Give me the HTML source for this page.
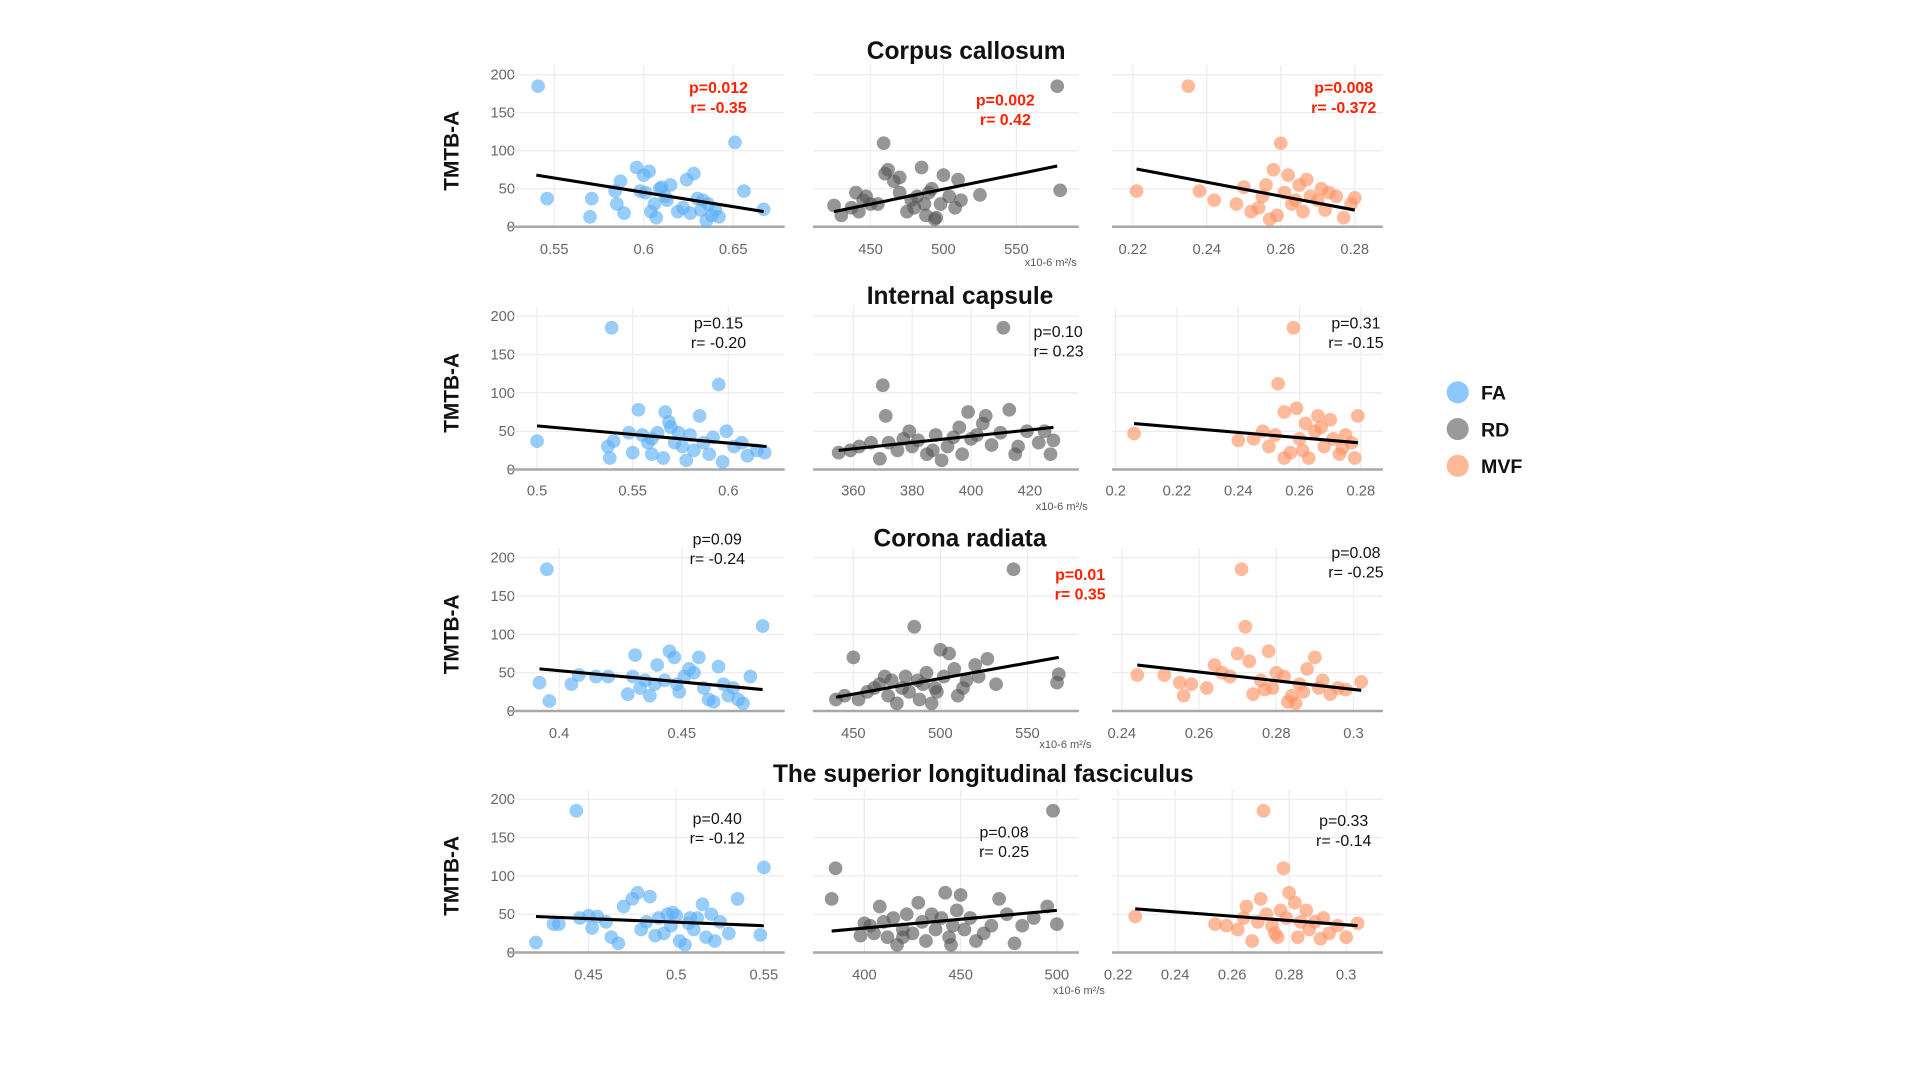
<!DOCTYPE html>
<html><head><meta charset="utf-8"><style>
html,body{margin:0;padding:0;background:#fff;width:1920px;height:1080px;overflow:hidden}
svg{display:block;font-family:"Liberation Sans",sans-serif}
</style></head><body>
<svg id="chart" width="1920" height="1080" viewBox="0 0 1566 881" xmlns="http://www.w3.org/2000/svg">
<g id="root"></g>
</svg>
<script>
// ---- data (value pairs: [metric, TMTB-A]) ----
const ccFA=[[0.541,185],[0.546,37],[0.57,13],[0.571,37],[0.584,47],[0.585,30],[0.587,60],[0.589,18],[0.596,78],[0.6,68],[0.603,73],[0.601,45],[0.604,20],[0.606,30],[0.607,12],[0.609,50],[0.612,40],[0.615,55],[0.613,35],[0.619,20],[0.624,62],[0.628,70],[0.63,37],[0.633,35],[0.636,30],[0.635,8],[0.64,22],[0.642,13],[0.651,111],[0.656,47],[0.667,23],[0.598,47],[0.61,52],[0.622,25],[0.626,18],[0.632,22],[0.638,15]];
const ccRD=[[425,28],[430,15],[437,25],[440,45],[442,20],[447,40],[450,30],[455,30],[459,110],[460,70],[462,75],[466,60],[470,65],[475,20],[478,35],[482,40],[485,78],[487,30],[488,15],[490,45],[492,50],[494,10],[495,12],[500,68],[504,40],[508,25],[510,62],[512,35],[525,42],[578,185],[580,48],[470,45],[480,25],[498,30],[445,35]];
const ccMVF=[[0.221,47],[0.235,185],[0.238,47],[0.242,35],[0.248,30],[0.25,52],[0.252,20],[0.255,40],[0.256,55],[0.258,75],[0.259,15],[0.26,110],[0.261,45],[0.262,68],[0.263,30],[0.265,55],[0.266,20],[0.267,62],[0.268,40],[0.27,35],[0.272,22],[0.273,45],[0.275,40],[0.277,12],[0.279,30],[0.28,38],[0.254,25],[0.257,10],[0.264,35],[0.271,50]];
const icFA=[[0.5,37],[0.539,185],[0.537,30],[0.538,15],[0.54,37],[0.548,48],[0.55,22],[0.553,78],[0.555,45],[0.558,35],[0.56,20],[0.563,48],[0.566,15],[0.567,75],[0.569,62],[0.57,55],[0.572,35],[0.574,48],[0.576,30],[0.578,12],[0.582,25],[0.585,70],[0.587,35],[0.59,20],[0.595,111],[0.597,10],[0.599,50],[0.603,30],[0.607,35],[0.61,18],[0.615,25],[0.619,22],[0.58,45],[0.592,42],[0.56,40]];
const icRD=[[355,22],[359,25],[362,30],[366,35],[369,14],[370,110],[371,70],[372,35],[375,25],[377,40],[379,50],[380,30],[382,38],[385,20],[387,25],[390,12],[392,30],[394,42],[396,55],[397,20],[399,75],[400,40],[402,45],[404,60],[405,70],[407,32],[410,48],[411,185],[413,78],[415,20],[416,30],[419,50],[423,35],[425,50],[427,20],[428,38],[388,45]];
const icMVF=[[0.206,47],[0.258,185],[0.253,112],[0.24,38],[0.245,40],[0.248,50],[0.25,30],[0.252,45],[0.255,75],[0.257,22],[0.259,80],[0.26,40],[0.262,60],[0.263,15],[0.265,50],[0.266,70],[0.268,30],[0.27,65],[0.271,40],[0.273,20],[0.275,45],[0.277,35],[0.278,15],[0.279,70],[0.255,15],[0.261,25],[0.267,55],[0.274,28]];
const crFA=[[0.392,37],[0.395,185],[0.396,13],[0.405,35],[0.408,47],[0.415,45],[0.42,45],[0.428,22],[0.43,45],[0.431,73],[0.433,30],[0.437,20],[0.439,35],[0.44,60],[0.443,40],[0.445,78],[0.447,70],[0.449,25],[0.451,45],[0.453,55],[0.455,50],[0.457,70],[0.459,30],[0.461,15],[0.463,12],[0.465,58],[0.467,35],[0.469,20],[0.471,30],[0.473,15],[0.475,10],[0.478,45],[0.483,111],[0.448,35],[0.435,40]];
const crRD=[[440,15],[445,20],[450,70],[453,15],[458,25],[462,30],[465,35],[468,45],[470,20],[472,40],[475,10],[478,30],[480,45],[482,25],[485,110],[487,40],[490,35],[492,50],[495,10],[497,30],[500,80],[502,45],[505,75],[508,55],[510,20],[513,30],[515,40],[520,60],[522,45],[527,68],[532,35],[542,185],[568,48],[567,37],[488,15],[498,25]];
const crMVF=[[0.244,47],[0.251,47],[0.255,37],[0.256,20],[0.258,35],[0.262,30],[0.264,60],[0.266,50],[0.268,45],[0.27,75],[0.271,185],[0.272,110],[0.273,65],[0.274,22],[0.276,40],[0.278,78],[0.279,30],[0.28,50],[0.282,45],[0.283,12],[0.284,20],[0.285,10],[0.286,35],[0.288,55],[0.29,70],[0.291,30],[0.292,40],[0.294,22],[0.296,30],[0.298,28],[0.302,38],[0.277,28],[0.287,25]];
const slfFA=[[0.42,13],[0.43,37],[0.433,37],[0.443,185],[0.445,45],[0.45,48],[0.452,32],[0.455,47],[0.46,40],[0.463,20],[0.467,12],[0.47,60],[0.475,70],[0.478,78],[0.48,30],[0.483,40],[0.485,73],[0.488,22],[0.49,45],[0.493,25],[0.495,50],[0.497,35],[0.5,48],[0.502,15],[0.505,10],[0.507,38],[0.51,30],[0.512,45],[0.515,63],[0.517,20],[0.52,50],[0.522,15],[0.525,40],[0.53,25],[0.535,70],[0.548,23],[0.55,111],[0.498,52],[0.508,45]];
const slfRD=[[383,70],[385,110],[398,22],[400,38],[403,35],[405,25],[408,60],[410,40],[412,20],[415,45],[417,10],[420,30],[422,50],[425,25],[428,65],[430,40],[432,15],[435,50],[437,30],[440,45],[442,78],[444,20],[446,35],[448,55],[450,75],[452,30],[455,45],[458,15],[462,25],[466,35],[470,70],[474,50],[478,12],[482,35],[488,45],[495,60],[498,185],[500,37],[420,20],[445,10]];
const slfMVF=[[0.226,47],[0.254,37],[0.258,35],[0.262,30],[0.264,45],[0.265,60],[0.267,15],[0.27,70],[0.271,185],[0.272,50],[0.274,35],[0.275,25],[0.277,55],[0.278,110],[0.279,45],[0.28,78],[0.282,65],[0.283,20],[0.284,40],[0.286,55],[0.287,30],[0.289,40],[0.291,18],[0.292,45],[0.294,25],[0.297,35],[0.3,20],[0.304,38],[0.269,40],[0.276,20]];
// regression fits [x0,y0,x1,y1]
const fits=[[0.54,68,0.667,20],[425,20,578,80],[0.221,76,0.28,22],
[0.5,57,0.62,30],[355,25,428,55],[0.206,60,0.279,35],
[0.392,55,0.483,28],[440,18,568,70],[0.244,60,0.302,27],
[0.42,47,0.55,35],[383,28,500,55],[0.226,57,0.304,35]];
const statP=["p=0.012","p=0.002","p=0.008","p=0.15","p=0.10","p=0.31","p=0.09","p=0.01","p=0.08","p=0.40","p=0.08","p=0.33"];
const statR=["r= -0.35","r= 0.42","r= -0.372","r= -0.20","r= 0.23","r= -0.15","r= -0.24","r= 0.35","r= -0.25","r= -0.12","r= 0.25","r= -0.14"];
const sig=[1,1,1,0,0,0,0,1,0,0,0,0];
const regionTitles=["Corpus callosum","Internal capsule","Corona radiata","The superior longitudinal fasciculus"];
const yTicks=[0,50,100,150,200];
const xTickSets=[[0.55,0.6,0.65],[450,500,550],[0.22,0.24,0.26,0.28],
[0.5,0.55,0.6],[360,380,400,420],[0.2,0.22,0.24,0.26,0.28],
[0.4,0.45],[450,500,550],[0.24,0.26,0.28,0.3],
[0.45,0.5,0.55],[400,450,500],[0.22,0.24,0.26,0.28,0.3]];
const seriesData=[ccFA,ccRD,ccMVF,icFA,icRD,icMVF,crFA,crRD,crMVF,slfFA,slfRD,slfMVF];

// ---- layout (pixel anchors) ----
const rows=[{y200:61,y0:185,tick:203,title:41,tx:788,unitY:214,unitX:857},
{y200:258,y0:383,tick:400,title:241,tx:783,unitY:413,unitX:866},
{y200:455,y0:580,tick:598,title:439,tx:783,unitY:607,unitX:869},
{y200:652,y0:777,tick:795,title:631,tx:802,unitY:808,unitX:880}];
const colSpan=[[415,640],[663,880],[907,1128]];
const xAnch=[[452,598],[710,829],[924,1105],[438,594],[696,840],[910,1110],[456,556],[696,838],[915,1104],[480,623],[705,862],[912,1098]];
const statPos=[[586,71,'m'],[820,81,'m'],[1096,71,'m'],[586,263,'m'],[843,270,'s'],[1106,263,'m'],[585,439,'m'],[881,468,'m'],[1106,450,'m'],[585,667,'m'],[819,678,'m'],[1096,669,'m']];
const colors=["#5aaef5","#555555","#ff9060"];
const NS="http://www.w3.org/2000/svg";
const root=document.getElementById('root');
function mk(tag,attrs,parent){const e=document.createElementNS(NS,tag);for(const k in attrs)e.setAttribute(k,attrs[k]);(parent||root).appendChild(e);return e;}
function txt(s,attrs,parent){const e=mk('text',attrs,parent);e.textContent=s;return e;}

rows.forEach((R,ri)=>{
  const g=mk('g',{});
  
  
  const yS=v=>R.y0+(v/200)*(R.y200-R.y0);
  const t=txt(regionTitles[ri],{x:R.tx,y:R.title+7,'text-anchor':'middle','font-size':20,'font-weight':'bold',fill:'#111'},g);
  
  
  const yl=txt('TMTB-A',{x:0,y:0,transform:`translate(374,${(R.y0+R.y200)/2}) rotate(-90)`,'text-anchor':'middle','font-size':17,'font-weight':'bold',fill:'#111'},g);
  
  
  yTicks.forEach(v=>{
    const l=txt(String(v),{x:420,y:yS(v)+4,'text-anchor':'end','font-size':12,fill:'#666'},g);
    
    
  });
  const u=txt('x10-6 m²/s',{x:R.unitX,y:R.unitY+3,'text-anchor':'middle','font-size':9,fill:'#555'},g);
  
  
  for(let c=0;c<3;c++){
    const pi=ri*3+c;
    const pg=mk('g',{},g);
    
    
    const ticks=xTickSets[pi],A=xAnch[pi];
    const t0=ticks[0],t1=ticks[ticks.length-1];
    const xS=v=>A[0]+(v-t0)/(t1-t0)*(A[1]-A[0]);
    const [L,Rr]=colSpan[c];
    yTicks.forEach(v=>{if(v>0)mk('line',{x1:L,x2:Rr,y1:yS(v),y2:yS(v),stroke:'#ececec','stroke-width':1},pg);});
    ticks.forEach(v=>{
      mk('line',{x1:xS(v),x2:xS(v),y1:R.y200-8,y2:R.y0,stroke:'#ececec','stroke-width':1},pg);
      const l=txt(String(v),{x:xS(v),y:R.tick+4,'text-anchor':'middle','font-size':12,fill:'#666'},pg);
      
      
    });
    const base=mk('line',{x1:L,x2:Rr,y1:R.y0,y2:R.y0,stroke:'#a8a8a8','stroke-width':2},pg);
    
    
    seriesData[pi].forEach(p=>{
      const d=mk('circle',{cx:xS(p[0]),cy:yS(p[1]),r:5.6,fill:colors[c],'fill-opacity':0.62},pg);
      
      
    });
    const f=fits[pi];
    const fl=mk('line',{x1:xS(f[0]),y1:yS(f[1]),x2:xS(f[2]),y2:yS(f[3]),stroke:'#000','stroke-width':2.5},pg);
    
    
    const sp=statPos[pi];
    const anc=sp[2]==='m'?'middle':'start';
    const col=sig[pi]?'#ff2200':'#111',fw=sig[pi]?'bold':'normal';
    const s1=txt(statP[pi],{x:sp[0],y:sp[1]+5,'text-anchor':anc,'font-size':13,'font-weight':fw,fill:col},pg);
    
    
    const s2=txt(statR[pi],{x:sp[0],y:sp[1]+21,'text-anchor':anc,'font-size':13,'font-weight':fw,fill:col},pg);
    
    
  }
});
// legend
const legendLabels=["FA","RD","MVF"];
const legendColors=["#8cc8fb","#9a9a9a","#ffb898"];
legendLabels.forEach((s,i)=>{
  const lg=mk('g',{});
  
  
  mk('circle',{cx:1189,cy:320+i*30,r:9,fill:legendColors[i]},lg);
  txt(s,{x:1208,y:326+i*30,'font-size':16,'font-weight':'bold',fill:'#111'},lg);
});
</script>
</body></html>
